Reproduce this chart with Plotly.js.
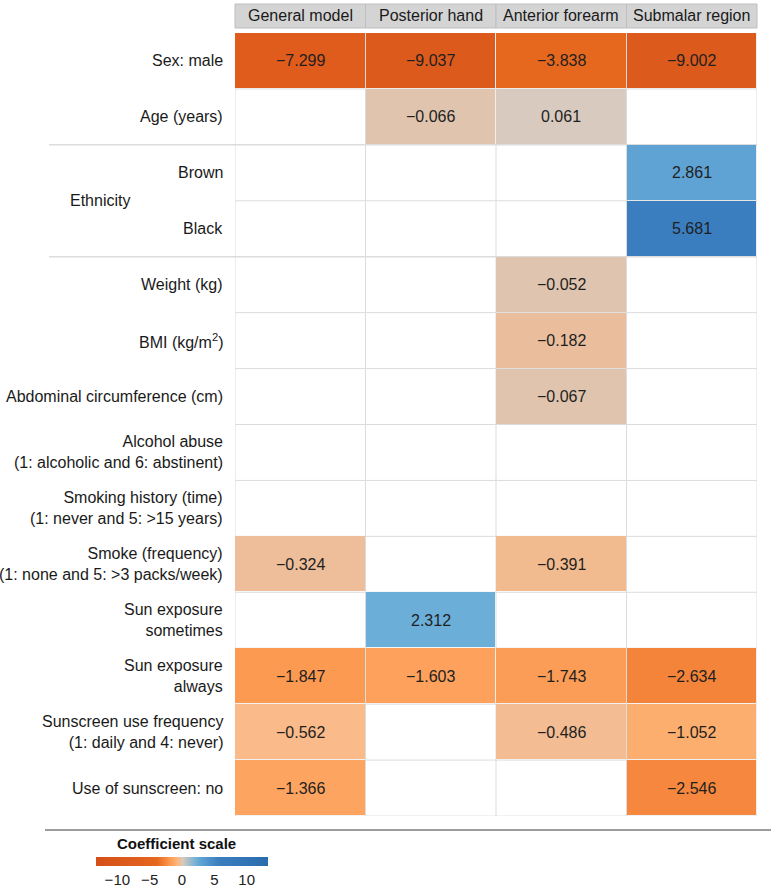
<!DOCTYPE html>
<html>
<head>
<meta charset="utf-8">
<script src="https://cdn.plot.ly/plotly-3.0.1.min.js"></script>
<style>html,body{margin:0;padding:0;background:#fff;}#chart{width:771px;height:886px;}</style>
</head>
<body>
<div id="chart"></div>
<script>
// ---- data ----
const columns = ["General model", "Posterior hand", "Anterior forearm", "Submalar region"];
const rowLabels = [
  "Sex: male",
  "Age (years)",
  "Brown",
  "Black",
  "Weight (kg)",
  "BMI (kg/m<sup>2</sup>)",
  "Abdominal circumference (cm)",
  "Alcohol abuse<br>(1: alcoholic and 6: abstinent)",
  "Smoking history (time)<br>(1: never and 5: >15 years)",
  "Smoke (frequency)<br>(1: none and 5: >3 packs/week)",
  "Sun exposure<br>sometimes",
  "Sun exposure<br>always",
  "Sunscreen use frequency<br>(1: daily and 4: never)",
  "Use of sunscreen: no"
];
const groupLabel = "Ethnicity";
const generalModel    = [-7.299, null,   null, null,  null,   null,   null,   null, null, -0.324, null,  -1.847, -0.562, -1.366];
const posteriorHand   = [-9.037, -0.066, null, null,  null,   null,   null,   null, null, null,   2.312, -1.603, null,   null];
const anteriorForearm = [-3.838, 0.061,  null, null,  -0.052, -0.182, -0.067, null, null, -0.391, null,  -1.743, -0.486, null];
const submalarRegion  = [-9.002, null,   2.861, 5.681, null,  null,   null,   null, null, null,   null,  -2.634, -1.052, -2.546];
const colorbarTicks = [-10, -5, 0, 5, 10];
const colorbarTitle = "Coefficient scale";

// ---- build ----
const series = [generalModel, posteriorHand, anteriorForearm, submalarRegion];
const nR = rowLabels.length, nC = columns.length;
const z = rowLabels.map((_, i) => series.map(s => s[i]));
const xIdx = columns.map((_, j) => j);
const yIdx = rowLabels.map((_, i) => i);

const zmin = -13.3, zmax = 13.3;
const stops = [
  [-13.3, '#D44F18'], [-9.0, '#DC5A1C'], [-7.3, '#DF5C1D'], [-3.84, '#E6681F'],
  [-2.6, '#F5853C'], [-1.85, '#FC9A52'], [-1.6, '#FDA15D'], [-1.37, '#FDA560'],
  [-1.05, '#FCAE6E'], [-0.56, '#FABA89'], [-0.49, '#F3BC93'], [-0.39, '#F2BB8F'],
  [-0.32, '#EDBE9A'], [-0.18, '#EABE9D'], [-0.06, '#DFC4AF'], [0.06, '#D8CABE'],
  [2.31, '#6BAED8'], [2.86, '#5FA3D4'], [5.68, '#3A7EBF'], [13.3, '#2A6BAC']
];
const colorscale = stops.map(s => [(s[0] - zmin) / (zmax - zmin), s[1]]);

const FONT = '"Liberation Sans", Arial, Helvetica, sans-serif';
const W = 771, H = 886;
const mL = 235, mR = 14, mT = 33, mB = 70;
const pw = W - mL - mR, ph = H - mT - mB;
const px2xp = px => (px - mL) / pw;          // pixel x -> paper x
const py2yp = py => (H - mB - py) / ph;      // pixel y -> paper y

const trace = {
  type: 'heatmap',
  x: xIdx, y: yIdx, z: z,
  zmin: zmin, zmax: zmax,
  colorscale: colorscale,
  xgap: 1, ygap: 1,
  hoverinfo: 'skip',
  colorbar: {
    orientation: 'h',
    x: px2xp(182), xanchor: 'center',
    y: py2yp(870), yanchor: 'middle',
    len: 172, lenmode: 'pixels',
    thickness: 9,
    outlinewidth: 0,
    tickvals: colorbarTicks,
    ticktext: colorbarTicks.map(v => String(v).replace('-', '\u2212')),
    ticks: '',
    tickfont: {family: FONT, size: 15, color: '#222'},
    xpad: 0, ypad: 0
  }
};

const shapes = [];
const annotations = [];

// table grid lines
for (let j = 0; j <= nC; j++) {
  shapes.push({type: 'line', layer: 'below', xref: 'x', yref: 'y',
    x0: j - 0.5, x1: j - 0.5, y0: -0.5, y1: nR - 0.5,
    line: {color: '#DCDCDC', width: 1}});
}
const groupBreaks = [2, 4];
for (let i = 1; i < nR; i++) {
  const isGroup = groupBreaks.includes(i);
  shapes.push({type: 'line', layer: 'below', xref: 'paper', yref: 'y',
    x0: isGroup ? px2xp(49) : 0, x1: 1, y0: i - 0.5, y1: i - 0.5,
    line: {color: '#DCDCDC', width: isGroup ? 1.5 : 1}});
}
shapes.push({type: 'line', layer: 'below', xref: 'paper', yref: 'y',
  x0: 0, x1: 1, y0: nR - 0.5, y1: nR - 0.5, line: {color: '#E4E4E4', width: 1}});

// header boxes
columns.forEach((c, j) => {
  shapes.push({type: 'rect', xref: 'paper', yref: 'paper',
    x0: j / nC, x1: (j + 1) / nC, y0: py2yp(28), y1: py2yp(4),
    fillcolor: '#D4D4D4', line: {color: '#BEBEBE', width: 1}});
  annotations.push({xref: 'paper', yref: 'paper', x: (j + 0.5) / nC, y: py2yp(16),
    text: c, showarrow: false, xanchor: 'center', yanchor: 'middle',
    font: {family: FONT, size: 16, color: '#1a1a1a'}});
});

// bottom rule
shapes.push({type: 'line', xref: 'paper', yref: 'paper',
  x0: px2xp(45), x1: px2xp(771), y0: py2yp(830), y1: py2yp(830),
  line: {color: '#9C9C9C', width: 2}});

// row labels
rowLabels.forEach((lab, i) => {
  annotations.push({xref: 'paper', yref: 'y', x: px2xp(225), y: i,
    text: lab, showarrow: false, xanchor: 'right', yanchor: 'middle', align: 'right',
    font: {family: FONT, size: 16, color: '#1a1a1a'}});
});
annotations.push({xref: 'paper', yref: 'y', x: px2xp(100), y: 2.5,
  text: groupLabel, showarrow: false, xanchor: 'center', yanchor: 'middle',
  font: {family: FONT, size: 16, color: '#1a1a1a'}});

// cell values
z.forEach((row, i) => row.forEach((v, j) => {
  if (v === null) return;
  annotations.push({xref: 'x', yref: 'y', x: j, y: i,
    text: v.toFixed(3).replace('-', '\u2212'), showarrow: false,
    font: {family: FONT, size: 16, color: '#1f1f1f'}});
}));

// colorbar title
annotations.push({xref: 'paper', yref: 'paper', x: px2xp(176), y: py2yp(843),
  text: '<b>' + colorbarTitle + '</b>', showarrow: false, xanchor: 'center', yanchor: 'middle',
  font: {family: FONT, size: 15, color: '#111'}});

const layout = {
  width: W, height: H,
  margin: {l: mL, r: mR, t: mT, b: mB, pad: 0, autoexpand: false},
  paper_bgcolor: '#fff', plot_bgcolor: '#fff',
  xaxis: {range: [-0.5, nC - 0.5], showgrid: false, zeroline: false, showticklabels: false, ticks: '', fixedrange: true},
  yaxis: {range: [nR - 0.5, -0.5], showgrid: false, zeroline: false, showticklabels: false, ticks: '', fixedrange: true},
  shapes: shapes,
  annotations: annotations,
  showlegend: false
};

Plotly.newPlot('chart', [trace], layout, {staticPlot: true, displayModeBar: false});
</script>
</body>
</html>
